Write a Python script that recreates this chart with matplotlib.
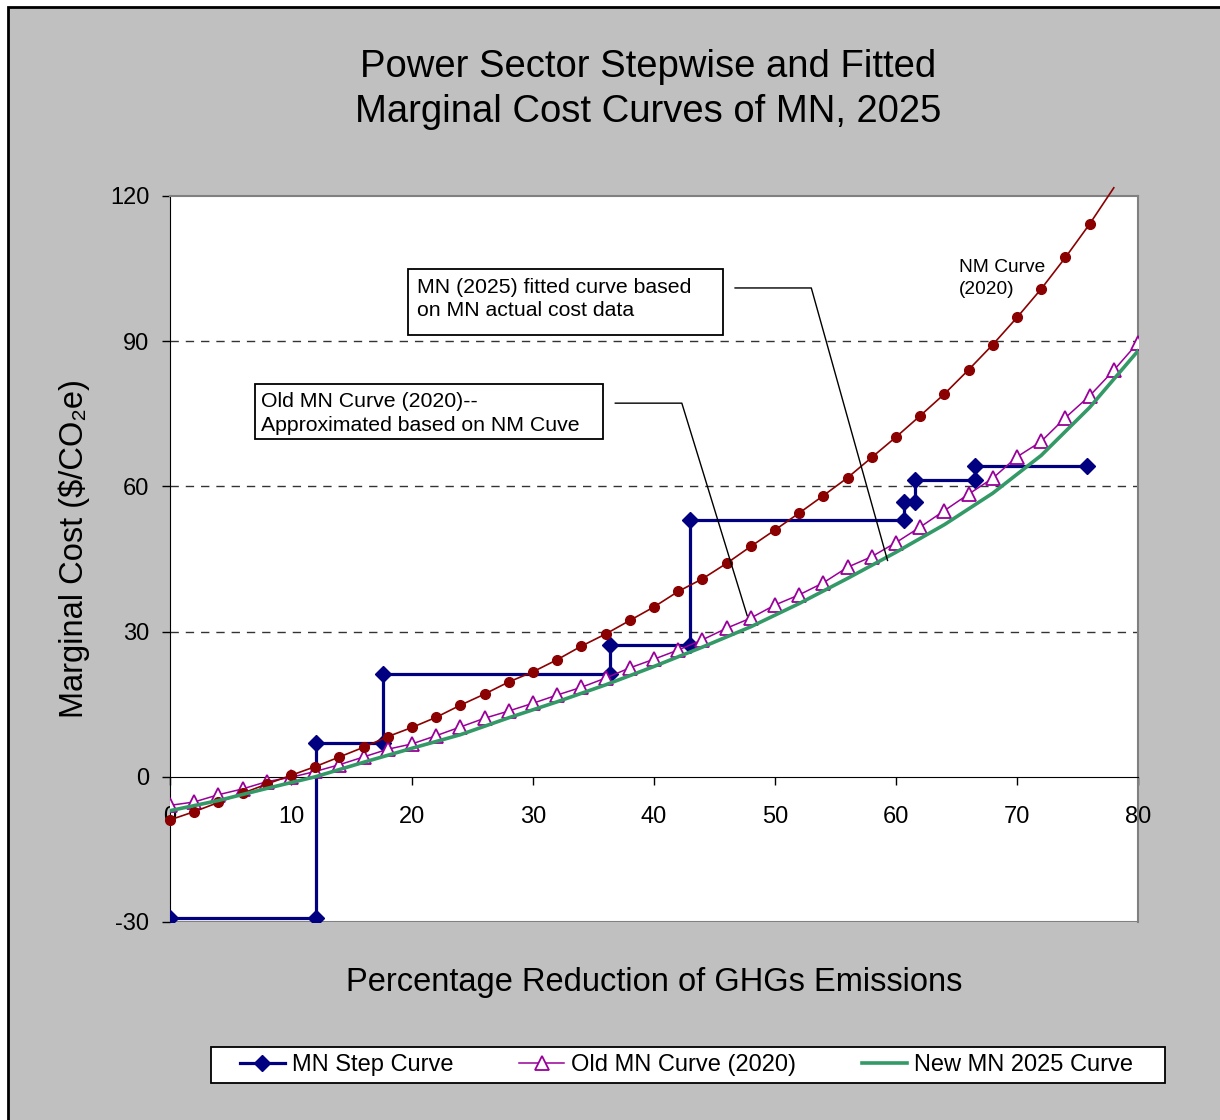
import matplotlib
matplotlib.use("Agg")
import matplotlib.pyplot as plt
from matplotlib.patches import Rectangle

plt.rcParams['font.family'] = ['Liberation Sans', 'DejaVu Sans']
plt.rcParams['axes.unicode_minus'] = False

# MN step curve (corners of the steps)
step_x = [0, 12.1, 12.1, 17.6, 17.6, 36.4, 36.4, 43.0, 43.0, 60.7, 60.7, 61.6, 61.6, 66.5, 66.5, 75.8]
step_y = [-29.2, -29.2, 7.0, 7.0, 21.3, 21.3, 27.3, 27.3, 53.0, 53.0, 56.8, 56.8, 61.4, 61.4, 64.3, 64.3]

# NM curve (2020)
nm_x = list(range(0, 80, 2))
nm_y = [-8.9, -7.2, -5.3, -3.4, -1.5, 0.3, 2.1, 4.1, 6.1, 8.3,
        10.2, 12.3, 14.8, 17.1, 19.6, 21.7, 24.2, 27.0, 29.5, 32.3,
        35.1, 38.3, 40.9, 44.1, 47.6, 51.0, 54.5, 58.1, 61.8, 66.0,
        70.2, 74.6, 79.1, 84.1, 89.3, 94.9, 100.8, 107.3, 114.2, 121.7]

# Old MN curve (2020)
old_x = list(range(0, 82, 2))
old_y = [-5.9, -5.2, -3.7, -2.5, -1.0, -0.1, 1.1, 2.5, 4.1, 5.7,
         6.8, 8.5, 10.3, 12.1, 13.6, 15.2, 16.9, 18.5, 20.4, 22.5,
         24.3, 26.2, 28.3, 30.7, 32.8, 35.5, 37.6, 40.1, 43.3, 45.5,
         48.4, 51.6, 55.0, 58.4, 61.7, 66.1, 69.3, 74.2, 78.7, 84.0, 89.7]

# New MN 2025 curve
new_x = [0, 4, 8, 12, 16, 20, 24, 28, 32, 36, 40, 44, 48, 52, 56, 60, 64, 68, 72, 76, 80]
new_y = [-7.0, -4.9, -2.4, 0.0, 3.0, 5.9, 8.7, 12.2, 15.5, 19.0, 22.8,
         26.8, 31.0, 35.8, 41.0, 46.4, 52.1, 58.6, 66.4, 76.3, 88.0]

x_ticks = [0, 10, 20, 30, 40, 50, 60, 70, 80]
y_ticks = [-30, 0, 30, 60, 90, 120]

fig = plt.figure(figsize=(12.2, 11.2), dpi=100)
fig.patch.set_facecolor('white')
# grey chart area with black border (right/bottom edges off canvas)
fig.patches.append(Rectangle((8 / 1220, -0.05), 1.2, 1.05 - 7 / 1120,
                             transform=fig.transFigure, facecolor='#C0C0C0',
                             edgecolor='black', lw=2, zorder=-1))
# legend frame
fig.patches.append(Rectangle((211 / 1220, (1120 - 1083) / 1120), 954 / 1220, 36 / 1120,
                             transform=fig.transFigure, facecolor='white',
                             edgecolor='black', lw=1.3, zorder=-0.5))

ax = fig.add_axes([170 / 1220, 198 / 1120, 968 / 1220, 726 / 1120])
ax.set_zorder(1)
ax.set_facecolor('white')
ax.set_xlim(0, 80)
ax.set_ylim(-30, 120)

for gy in [30, 60, 90]:
    ax.axhline(gy, color='#333333', lw=1, dashes=(6, 5), zorder=1)

ax.plot(step_x, step_y, color='#000080', lw=2.3, marker='D', ms=8.5, zorder=3,
        label='MN Step Curve')
ax.plot(old_x, old_y, color='#990099', lw=1.1, marker='^', ms=9.5, mfc='white',
        mec='#990099', mew=1.3, zorder=4, label='Old MN Curve (2020)')
ax.plot(new_x, new_y, color='#339966', lw=2.6, zorder=5, label='New MN 2025 Curve')
ax.plot(nm_x, nm_y, color='#8B0000', lw=1.2, marker='o', ms=7,
        markevery=slice(0, len(nm_x) - 1), zorder=4, clip_on=False)

# spines
for s in ['top', 'right']:
    ax.spines[s].set_color('#808080')
    ax.spines[s].set_linewidth(1.5)
ax.spines['left'].set_color('black')
ax.spines['bottom'].set_position(('data', 0))
ax.spines['bottom'].set_color('black')
ax.axhline(-30, color='#808080', lw=1.5, zorder=0.5)

ax.set_xticks(x_ticks)
ax.set_yticks(y_ticks)
ax.tick_params(axis='x', direction='out', length=6, width=1, labelsize=17, pad=15)
ax.tick_params(axis='y', direction='out', length=6, width=1, labelsize=17, pad=9)

ax.set_xlabel('Percentage Reduction of GHGs Emissions', fontsize=23.5, va='center')
ax.xaxis.set_label_coords(0.5, -0.083)
ax.set_ylabel('Marginal Cost ($/CO\u2082e)', fontsize=23.5, va='center')
ax.yaxis.set_label_coords(-0.099, 0.515)

fig.text(0.531, 0.92, 'Power Sector Stepwise and Fitted\nMarginal Cost Curves of MN, 2025',
         ha='center', va='center', fontsize=27.5, linespacing=1.3)

# annotation boxes
ax.add_patch(Rectangle((19.7, 91.2), 26.0, 13.7, facecolor='white', edgecolor='black',
                       lw=1.3, zorder=6))
ax.text(20.4, 98.7, 'MN (2025) fitted curve based\non MN actual cost data',
        fontsize=15.3, va='center', ha='left', linespacing=1.3, zorder=7)
ax.plot([46.7, 53.0, 59.3], [101.0, 101.0, 44.7], color='black', lw=1, zorder=6)

ax.add_patch(Rectangle((7.0, 69.8), 28.76, 11.4, facecolor='white', edgecolor='black',
                       lw=1.3, zorder=6))
ax.text(7.5, 75.1, 'Old MN Curve (2020)--\nApproximated based on NM Cuve',
        fontsize=15.3, va='center', ha='left', linespacing=1.3, zorder=7)
ax.plot([36.8, 42.3, 47.7], [77.2, 77.2, 33.3], color='black', lw=1, zorder=6)

ax.text(65.2, 102.9, 'NM Curve\n(2020)', fontsize=13.8, va='center', ha='left',
        linespacing=1.4, zorder=7)

handles, labels = ax.get_legend_handles_labels()
leg = fig.legend(handles, labels, loc='center', ncol=3, mode='expand',
                 bbox_to_anchor=(240 / 1220, (1120 - 1083) / 1120, 893 / 1220, 36 / 1120),
                 borderaxespad=0, fontsize=17, handlelength=1.9, handletextpad=0.3,
                 borderpad=0, frameon=False)

fig.savefig('out.png', dpi=100)
